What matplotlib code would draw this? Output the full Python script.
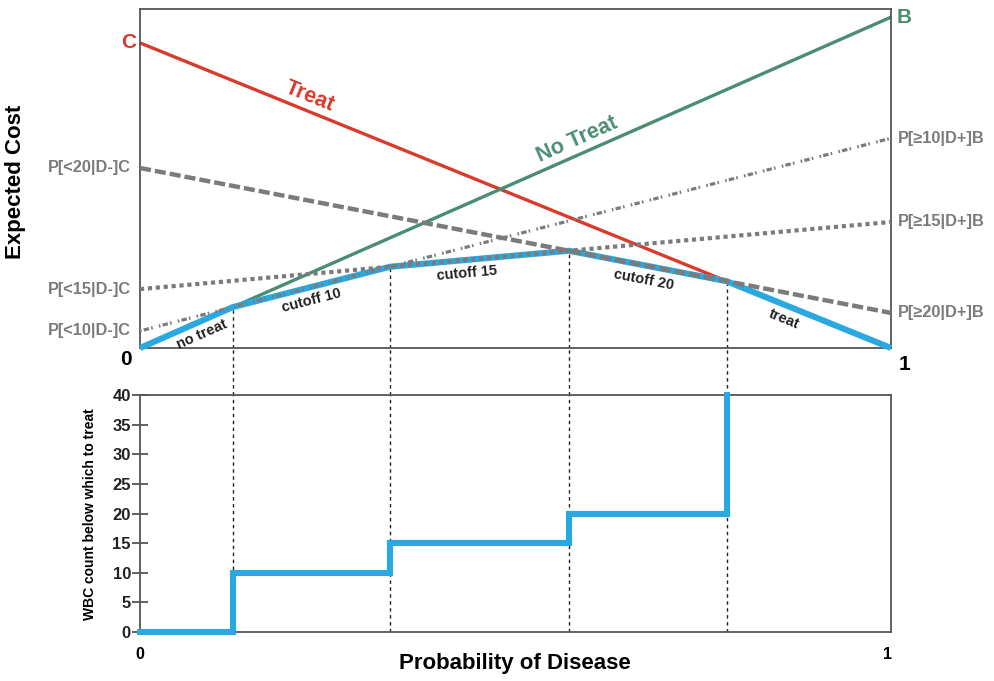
import numpy as np
import matplotlib
matplotlib.use("Agg")
import matplotlib.pyplot as plt
from matplotlib.transforms import blended_transform_factory

plt.rcParams['font.family'] = ['Liberation Sans', 'DejaVu Sans']
plt.rcParams['font.weight'] = 'bold'

# Costs (scaled): C = cost of treating a patient without disease,
# B = cost of not treating a patient with disease
cost_C = 0.90
cost_B = 0.976

# WBC cutoffs and the test characteristics at each cutoff
cutoffs = [10, 15, 20]
p_below_given_neg = [0.056, 0.193, 0.59]    # P[<k|D-]
p_above_given_pos = [0.634, 0.381, 0.106]   # P[>=k|D+]

# WBC threshold shown in the lower panel for each strategy
# (no treat, cutoff 10, cutoff 15, cutoff 20, treat)
wbc_levels = [0, 10, 15, 20, 40]

RED = '#d83a2c'
GREEN = '#4b8d72'
BLUE = '#2aa8e0'
GRAY = '#7b7b7b'
FRAME = '#555555'
INK = '#222222'

# expected cost at p=0 and p=1 for every strategy, ordered by cutoff
cost_at0 = [0.0] + [cost_C * q for q in p_below_given_neg] + [cost_C]
cost_at1 = [cost_B] + [cost_B * q for q in p_above_given_pos] + [0.0]


def cost(i, p):
    return cost_at0[i] + (cost_at1[i] - cost_at0[i]) * p


# probability where consecutive strategies have equal cost
breaks = []
for i in range(len(cost_at0) - 1):
    j = i + 1
    si = cost_at1[i] - cost_at0[i]
    sj = cost_at1[j] - cost_at0[j]
    breaks.append((cost_at0[j] - cost_at0[i]) / (si - sj))

env_x = [0.0] + breaks + [1.0]
env_y = [cost(0, 0.0)] + [cost(i, b) for i, b in enumerate(breaks)] + [cost(len(cost_at0) - 1, 1.0)]

W, H = 994, 681
fig = plt.figure(figsize=(W / 100, H / 100), dpi=100)


def rect(l, t, r, b):
    return [l / W, 1 - b / H, (r - l) / W, (b - t) / H]


TOP_BOTTOM_PX = 348
ax = fig.add_axes(rect(140, 9, 891, TOP_BOTTOM_PX))
axb = fig.add_axes(rect(140, 395, 891, 632))

for a in (ax, axb):
    for s in a.spines.values():
        s.set_color(FRAME)
        s.set_linewidth(1.3)

# ---------- upper panel: expected cost ----------
ax.set_xlim(0, 1)
ax.set_ylim(0, 1)
ax.set_xticks([])
ax.set_yticks([])

ax.plot([0, 1], [cost_at0[-1], cost_at1[-1]], color=RED, lw=2.4, zorder=2)
ax.plot([0, 1], [cost_at0[0], cost_at1[0]], color=GREEN, lw=2.4, zorder=2)
ax.plot(env_x, env_y, color=BLUE, lw=4.4, zorder=3, clip_on=False,
        solid_capstyle='butt', solid_joinstyle='round')

styles = [
    dict(lw=2.3, dashes=(0.5, 0.7, 1.7, 0.7, 0.5, 2.0)),   # cutoff 10
    dict(lw=3.0, dashes=(1.0, 0.9)),                       # cutoff 15
    dict(lw=3.2, dashes=(2.5, 0.9)),                       # cutoff 20
]
for k, st in enumerate(styles):
    i = k + 1
    ax.plot([0, 1], [cost_at0[i], cost_at1[i]], color=GRAY, zorder=4, **st)

# dotted guides at each switch point, running into the lower panel
guide = dict(color=INK, lw=1.0, linestyle=(0, (2.5, 2.5)), zorder=1)
gap_tr = blended_transform_factory(axb.transData, fig.transFigure)
axb_top = axb.get_position().y1
ax_bottom = ax.get_position().y0
for i, b in enumerate(breaks):
    ax.plot([b, b], [0, cost(i, b)], **guide)
    axb.plot([b, b], [0, 40], **guide)
    axb.plot([b, b], [axb_top, ax_bottom], transform=gap_tr, clip_on=False, **guide)

# end labels
ax.text(-0.005, cost_C, 'C', color=RED, fontsize=15, ha='right', va='center',
        clip_on=False)
ax.text(1.008, cost_B, 'B', color=GREEN, fontsize=15, ha='left', va='center',
        clip_on=False)
ax.text(-0.011, -0.035, '0', fontsize=15, ha='right', va='center', clip_on=False)
ax.text(1.01, -0.05, '1', fontsize=15, ha='left', va='center', clip_on=False)

left_names = [f'P[<{c}|D-]C' for c in cutoffs]
right_names = [f'P[≥{c}|D+]B' for c in cutoffs]
for k in range(len(cutoffs)):
    i = k + 1
    ax.text(-0.012, cost_at0[i], left_names[k], color=GRAY, fontsize=11.8,
            ha='right', va='center', clip_on=False)
    ax.text(1.009, cost_at1[i], right_names[k], color=GRAY, fontsize=11.8,
            ha='left', va='center', clip_on=False)


def line_label(i, p, dy, text, color, size):
    y = cost(i, p)
    p0 = ax.transData.transform((0, cost_at0[i]))
    p1 = ax.transData.transform((1, cost_at1[i]))
    ang = np.degrees(np.arctan2(p1[1] - p0[1], p1[0] - p0[0]))
    ax.text(p, y + dy, text, color=color, fontsize=size, rotation=ang,
            rotation_mode='anchor', ha='center', va='center', zorder=6)


n = len(cost_at0)
line_label(n - 1, 0.226, 0.045, 'Treat', RED, 15.5)
line_label(0, 0.582, 0.047, 'No Treat', GREEN, 15.5)
line_label(0, 0.082, -0.04, 'no treat', INK, 10.5)
line_label(1, 0.228, -0.04, f'cutoff {cutoffs[0]}', INK, 10.5)
line_label(2, 0.435, -0.04, f'cutoff {cutoffs[1]}', INK, 10.5)
line_label(3, 0.671, -0.044, f'cutoff {cutoffs[2]}', INK, 10.5)
line_label(n - 1, 0.858, -0.042, 'treat', INK, 10.5)

fig.text(16 / W, 1 - 182 / H, 'Expected Cost', fontsize=16, rotation=90,
         ha='center', va='center')

# ---------- lower panel: WBC threshold ----------
axb.set_xlim(0, 1)
axb.set_ylim(0, 40)
axb.set_xticks([])
axb.set_yticks(np.arange(0, 41, 5))
axb.tick_params(axis='y', direction='inout', length=11, width=1.3,
                color=FRAME, labelsize=12, pad=1)
for lab in axb.get_yticklabels():
    lab.set_fontweight('bold')
    lab.set_color(INK)

step_x = [0.0] + breaks
axb.step(step_x, wbc_levels, where='post', color=BLUE, lw=4.4,
         clip_on=False, zorder=3, solid_joinstyle='miter')

axb.text(0.0, -2.6, '0', fontsize=11.5, ha='center', va='top', clip_on=False)
axb.text(0.995, -2.6, '1', fontsize=11.5, ha='center', va='top', clip_on=False)
fig.text(90 / W, 1 - 514 / H, 'WBC count below which to treat', fontsize=10,
         rotation=90, ha='center', va='center')
fig.text(515 / W, 1 - 663 / H, 'Probability of Disease', fontsize=16,
         ha='center', va='center')

fig.savefig('out.png', dpi=100, facecolor='white')
